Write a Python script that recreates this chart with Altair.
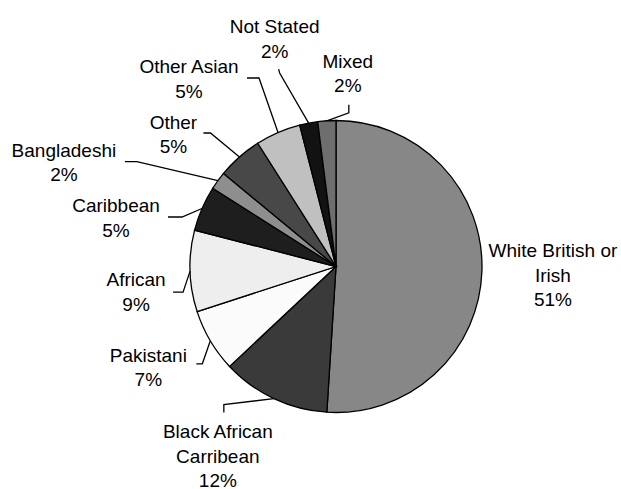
import math

import altair as alt
import pandas as pd

# Ethnic composition, clockwise from 12 o'clock
categories = [
    "White British or Irish",
    "Black African Carribean",
    "Pakistani",
    "African",
    "Caribbean",
    "Bangladeshi",
    "Other",
    "Other Asian",
    "Not Stated",
    "Mixed",
]
label_lines = [
    "White British or\nIrish",
    "Black African\nCarribean",
    "Pakistani",
    "African",
    "Caribbean",
    "Bangladeshi",
    "Other",
    "Other Asian",
    "Not Stated",
    "Mixed",
]
shares = [51, 12, 7, 9, 5, 2, 5, 5, 2, 2]

# Greyscale fills for each slice
fills = [
    "#878787", "#3a3a3a", "#fbfbfb", "#eeeeee", "#1e1e1e",
    "#8e8e8e", "#484848", "#c0c0c0", "#121212", "#6e6e6e",
]

# Canvas and pie geometry (pixels)
W, H = 621, 489
CX, CY, R = 336, 266.5, 146

# Leader lines: elbow and end, as offsets from the slice's rim midpoint
leader_elbow = [None, (-50, 6), (-8, 23), (-7, 21), (-20, 8.5), (-81, -19),
                (-29, -24), (-19, -54.5), (-29, -50), (22, -8)]
leader_end = [None, (-50, 14), (-14, 23), (-17, 21), (-34, 8.5), (-93, -19),
              (-36, -24), (-31, -54.5), (-30, -54), (22, -16)]
# Label anchor (centre x, first baseline), as offsets from the rim midpoint
label_offset = [(71, -14), (-56, 39.4), (-62, 21), (-54, 15), (-86, 3.5),
                (-154, -24), (-66, -28), (-89, -59.5), (-34, -90), (21, -53)]

total = sum(shares)
slices, leaders, labels = [], [], []
cum = 0.0
for i, (cat, share) in enumerate(zip(categories, shares)):
    mid = 2 * math.pi * (cum + share / 2) / total
    cum += share
    ax = CX + R * math.sin(mid)
    ay = CY - R * math.cos(mid)
    slices.append({"idx": i, "category": cat, "share": share})
    lx, ly = label_offset[i]
    labels.append({
        "category": cat,
        "px": ax + lx,
        "py": ay + ly,
        "text": f"{label_lines[i]}\n{share}%",
    })
    if leader_elbow[i] is not None:
        pts = [(0, 0), leader_elbow[i], leader_end[i]]
        for k, (dx, dy) in enumerate(pts):
            leaders.append({"category": cat, "k": k, "px": ax + dx, "py": ay + dy})

slice_df = pd.DataFrame(slices)
leader_df = pd.DataFrame(leaders)
label_df = pd.DataFrame(labels)

x_enc = alt.X("px:Q", scale=alt.Scale(domain=[0, W], range=[0, W], nice=False, zero=False), axis=None)
y_enc = alt.Y("py:Q", scale=alt.Scale(domain=[0, H], range=[0, H], nice=False, zero=False), axis=None)

pie = alt.Chart(slice_df).mark_arc(
    outerRadius=R, stroke="black", strokeWidth=1.3
).encode(
    theta=alt.Theta("share:Q", stack=True),
    color=alt.Color("category:N", scale=alt.Scale(domain=categories, range=fills), legend=None),
    order=alt.Order("idx:Q"),
    x=alt.value(CX),
    y=alt.value(CY),
)

lines = alt.Chart(leader_df).mark_line(color="black", strokeWidth=1.3).encode(
    x=x_enc,
    y=y_enc,
    detail="category:N",
    order="k:Q",
)

texts = alt.Chart(label_df).mark_text(
    font="Liberation Sans",
    fontSize=19,
    color="black",
    align="center",
    baseline="alphabetic",
    lineBreak="\n",
    lineHeight=24.5,
).encode(
    x=x_enc,
    y=y_enc,
    text="text:N",
)

chart = alt.layer(pie, lines, texts).properties(
    width=W,
    height=H,
    padding=0,
    autosize=alt.AutoSizeParams(type="none"),
    background="white",
).configure_view(stroke=None)

chart.save("out.html", embed_options={"renderer": "svg", "actions": False})
